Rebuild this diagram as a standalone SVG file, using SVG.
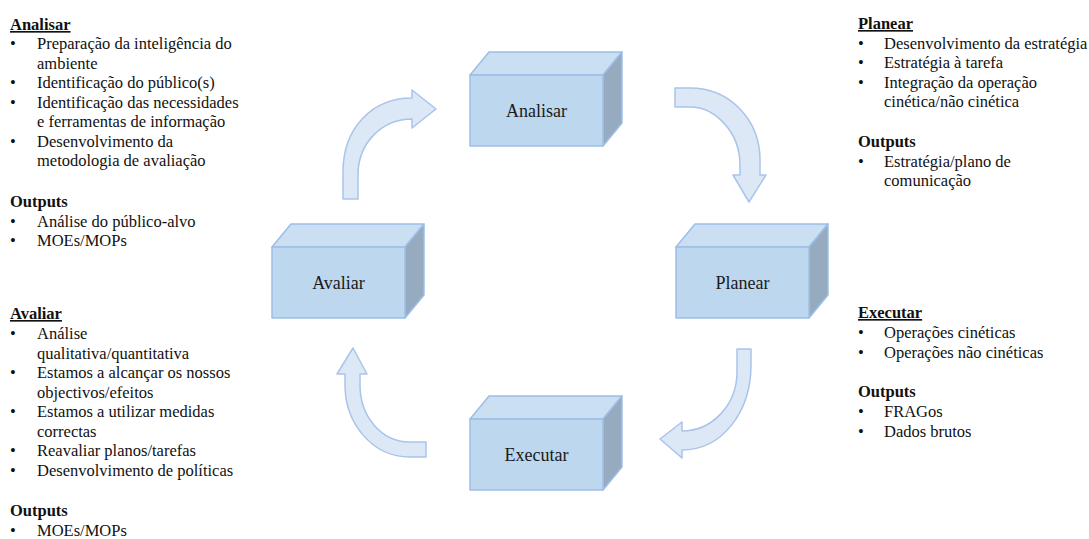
<svg xmlns="http://www.w3.org/2000/svg" width="1089" height="539" viewBox="0 0 1089 539">
  <defs>
    <style>
      .t { font-family: 'Liberation Serif', 'DejaVu Serif', serif; font-size: 16.5px; fill: #111; }
      .h { font-weight: bold; text-decoration: underline; }
      .b { font-weight: bold; }
      .lbl { font-family: 'Liberation Serif', 'DejaVu Serif', serif; font-size: 18px; fill: #1a1a1a; text-anchor: middle; }
      .front { fill: #bdd7ee; stroke: #9dbfe6; stroke-width: 1.5; stroke-linejoin: round; }
      .top { fill: #cbdff2; stroke: #9dbfe6; stroke-width: 1.5; stroke-linejoin: round; }
      .side { fill: #97abc0; stroke: #9dbfe6; stroke-width: 1.5; stroke-linejoin: round; }
      .arrow { fill: #dde8f6; stroke: #a9c4ea; stroke-width: 1.5; stroke-linejoin: round; }
    </style>
    <!-- 3D block: front face 133x71, depth offset 19 right / 23 up -->
    <g id="block">
      <polygon class="top" points="0,0 19,-23 152,-23 133,0"/>
      <polygon class="side" points="133,0 152,-23 152,48 133,71"/>
      <rect class="front" x="0" y="0" width="133" height="71"/>
    </g>
  </defs>

  <rect width="1089" height="539" fill="#ffffff"/>

  <!-- curved cycle arrows -->
  <g id="connectors">
    <path class="arrow" d="M343,199 L343,172 C343,128 372,98 412,98 L412,90 L436,109 L412,128 L412,119 C383,119 358,142 358,175 L358,199 Z"/>
    <path class="arrow" d="M675,88 L690,88 C730,88 760,120 760,160 L760,175 L766,175 L749,202 L733,175 L740,175 L740,165 C740,132 715,107 690,107 L675,107 Z"/>
    <path class="arrow" d="M751,349 L751,365 C751,412 722,450 682,450 L682,458 L660,439 L682,422 L682,431 C712,431 737,405 737,372 L737,349 Z"/>
    <path class="arrow" d="M426,457 L410,457 C371,457 345,422 345,385 L345,374 L337,374 L353,348 L367,374 L360,374 L360,385 C360,415 380,442 410,442 L426,442 Z"/>
  </g>

  <!-- cycle stages -->
  <g id="node-analisar">
    <use href="#block" x="470" y="75"/>
    <text class="lbl" x="536.5" y="117">Analisar</text>
  </g>
  <g id="node-planear">
    <use href="#block" x="676" y="247"/>
    <text class="lbl" x="742.5" y="289">Planear</text>
  </g>
  <g id="node-executar">
    <use href="#block" x="470" y="419"/>
    <text class="lbl" x="536.5" y="461">Executar</text>
  </g>
  <g id="node-avaliar">
    <use href="#block" x="272" y="247"/>
    <text class="lbl" x="338.5" y="289">Avaliar</text>
  </g>

  <!-- stage descriptions -->
  <g id="notes-analisar">
    <text class="t h" x="10" y="30">Analisar</text>
    <text class="t" x="10" y="49">•</text><text class="t" x="37" y="49">Preparação da inteligência do</text>
    <text class="t" x="37" y="68.5">ambiente</text>
    <text class="t" x="10" y="88">•</text><text class="t" x="37" y="88">Identificação do público(s)</text>
    <text class="t" x="10" y="107.5">•</text><text class="t" x="37" y="107.5">Identificação das necessidades</text>
    <text class="t" x="37" y="127">e ferramentas de informação</text>
    <text class="t" x="10" y="146.5">•</text><text class="t" x="37" y="146.5">Desenvolvimento da</text>
    <text class="t" x="37" y="166">metodologia de avaliação</text>
    <text class="t b" x="10" y="207">Outputs</text>
    <text class="t" x="10" y="226.5">•</text><text class="t" x="37" y="226.5">Análise do público-alvo</text>
    <text class="t" x="10" y="246">•</text><text class="t" x="37" y="246">MOEs/MOPs</text>
  </g>

  <g id="notes-avaliar">
    <text class="t h" x="10" y="319">Avaliar</text>
    <text class="t" x="10" y="339">•</text><text class="t" x="37" y="339">Análise</text>
    <text class="t" x="37" y="358.5">qualitativa/quantitativa</text>
    <text class="t" x="10" y="378">•</text><text class="t" x="37" y="378">Estamos a alcançar os nossos</text>
    <text class="t" x="37" y="397.5">objectivos/efeitos</text>
    <text class="t" x="10" y="417">•</text><text class="t" x="37" y="417">Estamos a utilizar medidas</text>
    <text class="t" x="37" y="436.5">correctas</text>
    <text class="t" x="10" y="456">•</text><text class="t" x="37" y="456">Reavaliar planos/tarefas</text>
    <text class="t" x="10" y="475.5">•</text><text class="t" x="37" y="475.5">Desenvolvimento de políticas</text>
    <text class="t b" x="10" y="516">Outputs</text>
    <text class="t" x="10" y="535.5">•</text><text class="t" x="37" y="535.5">MOEs/MOPs</text>
  </g>

  <g id="notes-planear">
    <text class="t h" x="858" y="29">Planear</text>
    <text class="t" x="858" y="48.5">•</text><text class="t" x="884" y="48.5">Desenvolvimento da estratégia</text>
    <text class="t" x="858" y="68">•</text><text class="t" x="884" y="68">Estratégia à tarefa</text>
    <text class="t" x="858" y="87.5">•</text><text class="t" x="884" y="87.5">Integração da operação</text>
    <text class="t" x="884" y="107">cinética/não cinética</text>
    <text class="t b" x="858" y="147">Outputs</text>
    <text class="t" x="858" y="166.5">•</text><text class="t" x="884" y="166.5">Estratégia/plano de</text>
    <text class="t" x="884" y="186">comunicação</text>
  </g>

  <g id="notes-executar">
    <text class="t h" x="858" y="318">Executar</text>
    <text class="t" x="858" y="338">•</text><text class="t" x="884" y="338">Operações cinéticas</text>
    <text class="t" x="858" y="357.5">•</text><text class="t" x="884" y="357.5">Operações não cinéticas</text>
    <text class="t b" x="858" y="397">Outputs</text>
    <text class="t" x="858" y="417">•</text><text class="t" x="884" y="417">FRAGos</text>
    <text class="t" x="858" y="436.5">•</text><text class="t" x="884" y="436.5">Dados brutos</text>
  </g>
</svg>
